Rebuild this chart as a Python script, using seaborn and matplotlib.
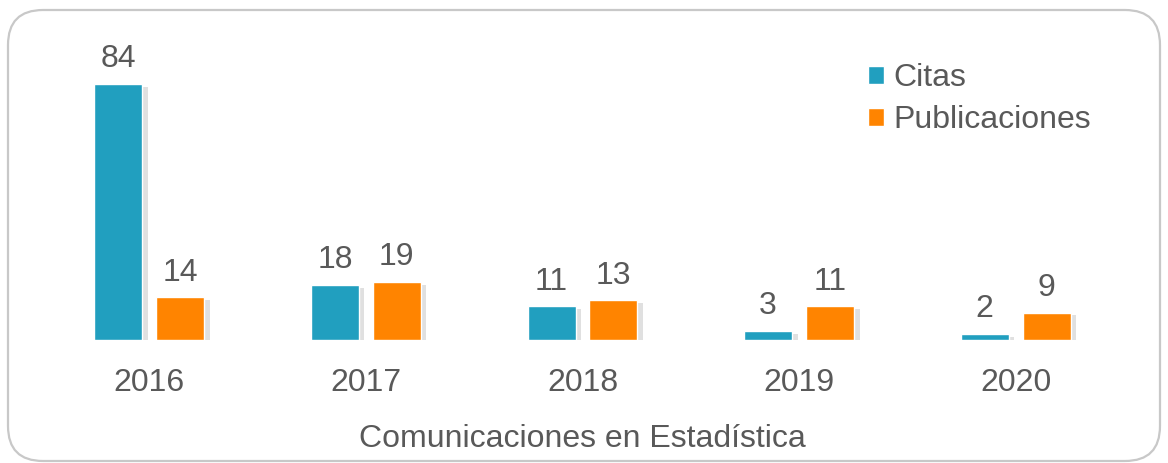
import matplotlib
matplotlib.use("Agg")
import matplotlib.pyplot as plt
import matplotlib.patheffects as pe
from matplotlib.patches import FancyBboxPatch
import seaborn as sns
import pandas as pd

years = ["2016", "2017", "2018", "2019", "2020"]
citas = [84, 18, 11, 3, 2]
publicaciones = [14, 19, 13, 11, 9]
series_names = ["Citas", "Publicaciones"]
xlabel = "Comunicaciones en Estadística"

colors = ["#219FBF", "#FF8400"]
text_color = "#595959"

sns.set_theme(style="white")
plt.rcParams["font.family"] = ["Liberation Sans", "DejaVu Sans"]

df = pd.DataFrame({
    "year": years * 2,
    "value": citas + publicaciones,
    "serie": [series_names[0]] * len(years) + [series_names[1]] * len(years),
})

W, H = 1168, 463
fig = plt.figure(figsize=(W / 100, H / 100), dpi=100)
ax = fig.add_axes([41 / W, (H - 340) / H, 1083 / W, 320 / H])

sns.barplot(data=df, x="year", y="value", hue="serie", palette=colors,
            width=0.572, gap=0.225, ax=ax, saturation=1, legend=True)

for p in ax.patches:
    p.set_path_effects([pe.SimplePatchShadow(offset=(4, -2), shadow_rgbFace="#999999", alpha=0.3),
                        pe.Normal()])

for c in ax.containers:
    ax.bar_label(c, labels=[f"{v:g}" for v in c.datavalues], padding=7,
                 fontsize=23, color=text_color)

ax.set_xlim(-0.5, 4.5)
ax.set_ylim(0, 105)
ax.set_yticks([])
ax.set_ylabel("")
ax.set_xlabel(xlabel, fontsize=23, color=text_color, labelpad=19)
ax.tick_params(axis="x", length=0, labelsize=23, labelcolor=text_color, pad=20)
for s in ax.spines.values():
    s.set_visible(False)

leg = ax.legend(loc="upper left", bbox_to_anchor=(0.752, 0.905), frameon=False,
                fontsize=23, handlelength=0.5, handleheight=0.5, handletextpad=0.3,
                labelspacing=0.38, borderaxespad=0)
for t in leg.get_texts():
    t.set_color(text_color)
for h in leg.legend_handles:
    h.set_path_effects([])

frame = FancyBboxPatch((8 / W, 2 / H), 1152 / W, 451 / H,
                       boxstyle="round,pad=0,rounding_size=0.03",
                       transform=fig.transFigure, facecolor="none",
                       edgecolor="#C8C8C8", lw=1.6, mutation_aspect=W / H)
fig.patches.append(frame)

fig.savefig("out.png", dpi=100)
